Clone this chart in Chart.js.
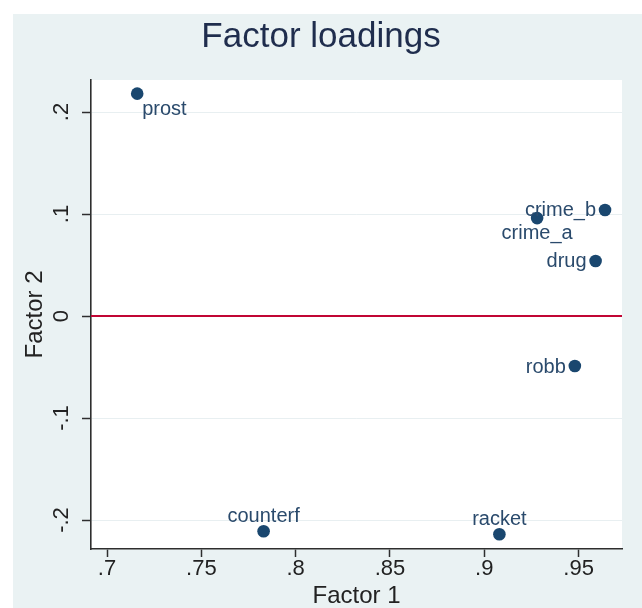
<!DOCTYPE html>
<html>
<head>
<meta charset="utf-8">
<script src="https://cdn.jsdelivr.net/npm/chart.js@4/dist/chart.umd.min.js"></script>
<style>
  html, body { margin: 0; padding: 0; background: #ffffff; }
  canvas { display: block; }
</style>
</head>
<body>
<canvas id="loadings" width="642" height="608"></canvas>
<script>
// Variable names and their loadings on the two retained factors
const variables = ['prost', 'crime_b', 'crime_a', 'drug', 'robb', 'counterf', 'racket'];
const factor1 = [0.716, 0.964, 0.928, 0.959, 0.948, 0.783, 0.908];
const factor2 = [0.218, 0.104, 0.096, 0.054, -0.049, -0.211, -0.214];

// Axis ticks
const xTickValues = [0.7, 0.75, 0.8, 0.85, 0.9, 0.95];
const xTickLabels = ['.7', '.75', '.8', '.85', '.9', '.95'];
const yTickValues = [-0.2, -0.1, 0, 0.1, 0.2];
const yTickLabels = ['-.2', '-.1', '0', '.1', '.2'];

// Reference line
const refLineY = 0;

// Marker-label placement, as clock positions around each marker
const labelClock = { prost: 4, crime_b: 9, crime_a: 6, drug: 9, robb: 9, counterf: 12, racket: 12 };

const FONT = '"Liberation Sans", Arial, Helvetica, sans-serif';
const NAVY = '#1a476f';
const BG = '#eaf2f3';
const AXIS = '#2e2e2e';

const points = variables.map((v, i) => ({ x: factor1[i], y: factor2[i], name: v }));

const backdrop = {
  id: 'backdrop',
  beforeDraw(chart) {
    const { ctx, chartArea: a } = chart;
    ctx.save();
    ctx.fillStyle = '#ffffff';
    ctx.fillRect(0, 0, chart.width, chart.height);
    ctx.fillStyle = BG;
    ctx.fillRect(13, 14, chart.width - 13, chart.height - 14);
    ctx.fillStyle = '#ffffff';
    ctx.fillRect(a.left, a.top, a.right - a.left, a.bottom - a.top);
    ctx.restore();
  }
};

const refLine = {
  id: 'refLine',
  beforeDatasetsDraw(chart) {
    const { ctx, chartArea: a, scales } = chart;
    const y = scales.y.getPixelForValue(refLineY);
    ctx.save();
    ctx.strokeStyle = '#c10534';
    ctx.lineWidth = 2;
    ctx.beginPath();
    ctx.moveTo(a.left, y);
    ctx.lineTo(a.right, y);
    ctx.stroke();
    ctx.restore();
  }
};

const yLabels = {
  id: 'yLabels',
  afterDraw(chart) {
    const { ctx, scales } = chart;
    ctx.save();
    ctx.fillStyle = '#222222';
    ctx.font = '22px ' + FONT;
    ctx.textAlign = 'center';
    ctx.textBaseline = 'alphabetic';
    yTickValues.forEach((v, i) => {
      const py = scales.y.getPixelForValue(v);
      ctx.save();
      ctx.translate(68, py);
      ctx.rotate(-Math.PI / 2);
      ctx.fillText(yTickLabels[i], 0, 0);
      ctx.restore();
    });
    ctx.restore();
  }
};

const markerLabels = {
  id: 'markerLabels',
  afterDatasetsDraw(chart) {
    const { ctx } = chart;
    const meta = chart.getDatasetMeta(0);
    ctx.save();
    ctx.fillStyle = '#2a4a6c';
    ctx.font = '20px ' + FONT;
    ctx.textBaseline = 'middle';
    meta.data.forEach((el, i) => {
      const name = variables[i];
      const pos = labelClock[name];
      let tx = el.x, ty = el.y;
      if (pos === 9) { ctx.textAlign = 'right'; tx -= 9; ty += 1; }
      else if (pos === 3) { ctx.textAlign = 'left'; tx += 9; }
      else if (pos === 12) { ctx.textAlign = 'center'; ty -= 15; }
      else if (pos === 6) { ctx.textAlign = 'center'; ty += 15; }
      else if (pos === 4) { ctx.textAlign = 'left'; tx += 5; ty += 16; }
      ctx.fillText(name, tx, ty);
    });
    ctx.restore();
  }
};

new Chart(document.getElementById('loadings'), {
  type: 'scatter',
  data: {
    datasets: [{
      data: points,
      backgroundColor: NAVY,
      borderColor: NAVY,
      borderWidth: 0,
      pointRadius: 6.3,
      pointHoverRadius: 6.3
    }]
  },
  options: {
    responsive: false,
    animation: false,
    events: [],
    layout: { padding: { left: 20, right: 20, top: 0, bottom: 0 } },
    plugins: {
      legend: { display: false },
      tooltip: { enabled: false },
      title: {
        display: true,
        text: 'Factor loadings',
        color: '#1f2d4d',
        font: { family: FONT, size: 35, weight: 'normal', lineHeight: 1.2 },
        padding: { top: 16, bottom: 22 }
      }
    },
    scales: {
      x: {
        type: 'linear',
        min: 0.6915,
        max: 0.973,
        afterBuildTicks(scale) { scale.ticks = xTickValues.map(v => ({ value: v })); },
        afterFit(scale) { scale.height = 59; },
        ticks: {
          color: '#222222',
          font: { family: FONT, size: 22, lineHeight: 1 },
          padding: 1,
          autoSkip: false,
          maxRotation: 0,
          callback(value, index) { return xTickLabels[index]; }
        },
        grid: { drawOnChartArea: false, drawTicks: true, tickLength: 8, tickColor: AXIS, tickWidth: 1.5 },
        border: { display: true, color: AXIS, width: 1.6 },
        title: {
          display: true,
          text: 'Factor 1',
          color: '#222222',
          font: { family: FONT, size: 24, lineHeight: 1 },
          padding: { top: 0, bottom: 0 }
        }
      },
      y: {
        type: 'linear',
        min: -0.2284,
        max: 0.2314,
        afterBuildTicks(scale) { scale.ticks = yTickValues.map(v => ({ value: v })); },
        afterFit(scale) { scale.width = 71; },
        ticks: { display: false },
        grid: { color: '#e8eff1', lineWidth: 1, drawTicks: true, tickLength: 9, tickColor: AXIS, tickWidth: 1.5 },
        border: { display: true, color: AXIS, width: 1.6 },
        title: {
          display: true,
          text: 'Factor 2',
          color: '#222222',
          font: { family: FONT, size: 24, lineHeight: 1 },
          padding: { top: 3, bottom: 0 }
        }
      }
    }
  },
  plugins: [backdrop, refLine, yLabels, markerLabels]
});
</script>
</body>
</html>
